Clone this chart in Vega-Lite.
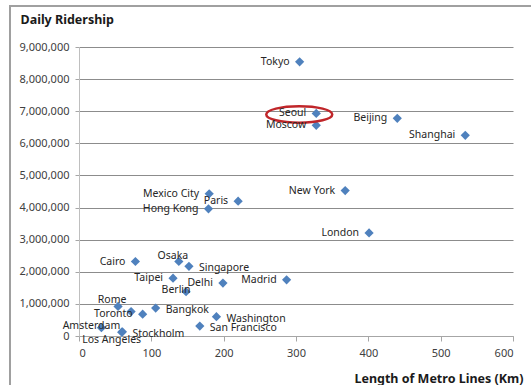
{
  "$schema": "https://vega.github.io/schema/vega-lite/v6.json",
  "width": 434,
  "height": 289,
  "autosize": {"type": "none"},
  "padding": {"left": 79, "top": 47, "right": 18, "bottom": 49},
  "background": "white",
  "config": {
    "view": {"stroke": null},
    "font": "Noto Sans",
    "axis": {"labelFont": "Noto Sans", "titleFont": "Noto Sans"}
  },
  "data": {
    "values": [
      {"city": "Tokyo", "length": 305, "riders": 8540000},
      {"city": "Seoul", "length": 328, "riders": 6930000},
      {"city": "Moscow", "length": 328, "riders": 6560000},
      {"city": "Beijing", "length": 440, "riders": 6780000},
      {"city": "Shanghai", "length": 534, "riders": 6250000},
      {"city": "New York", "length": 368, "riders": 4530000},
      {"city": "London", "length": 401, "riders": 3210000},
      {"city": "Madrid", "length": 287, "riders": 1750000},
      {"city": "Mexico City", "length": 180, "riders": 4430000},
      {"city": "Paris", "length": 220, "riders": 4200000},
      {"city": "Hong Kong", "length": 179, "riders": 3960000},
      {"city": "Cairo", "length": 78, "riders": 2320000},
      {"city": "Osaka", "length": 138, "riders": 2320000},
      {"city": "Singapore", "length": 152, "riders": 2170000},
      {"city": "Taipei", "length": 130, "riders": 1800000},
      {"city": "Delhi", "length": 199, "riders": 1650000},
      {"city": "Berlin", "length": 148, "riders": 1380000},
      {"city": "Rome", "length": 54, "riders": 920000},
      {"city": "", "length": 72, "riders": 760000},
      {"city": "Toronto", "length": 88, "riders": 680000},
      {"city": "Bangkok", "length": 106, "riders": 870000},
      {"city": "Washington", "length": 190, "riders": 600000},
      {"city": "San Francisco", "length": 167, "riders": 310000},
      {"city": "Amsterdam", "length": 31, "riders": 260000},
      {"city": "Stockholm", "length": 60, "riders": 130000},
      {"city": "Los Angeles", "length": 59, "riders": 120000}
    ]
  },
  "encoding": {
    "x": {
      "field": "length", "type": "quantitative",
      "scale": {"domain": [0, 600], "nice": false, "zero": false},
      "axis": {
        "values": [0, 100, 200, 300, 400, 500, 600],
        "grid": false,
        "domainColor": "#a6a6a6", "tickColor": "#a6a6a6", "tickSize": 5,
        "labelFontSize": 11, "labelColor": "#404040", "labelPadding": 6,
        "title": "Length of Metro Lines (Km)",
        "titleFontSize": 12.5, "titleFontWeight": "bold", "titleColor": "#1a1a1a",
        "titleAnchor": null, "titleAlign": "right", "titleX": 444, "titleY": 42, "titleBaseline": "middle"
      }
    },
    "y": {
      "field": "riders", "type": "quantitative",
      "scale": {"domain": [0, 9000000], "nice": false},
      "axis": {
        "values": [0, 1000000, 2000000, 3000000, 4000000, 5000000, 6000000, 7000000, 8000000, 9000000],
        "format": ",d",
        "grid": true, "gridColor": "#8c8c8c", "gridWidth": 1,
        "domainColor": "#bfbfbf", "tickColor": "#a6a6a6", "tickSize": 4,
        "labelFontSize": 11, "labelColor": "#404040", "labelPadding": 6,
        "title": "Daily Ridership",
        "titleFontSize": 12.5, "titleFontWeight": "bold", "titleColor": "#1a1a1a",
        "titleAngle": 0, "titleAnchor": null, "titleAlign": "left", "titleBaseline": "middle",
        "titleX": -59, "titleY": -28
      }
    }
  },
  "layer": [
    {
      "mark": {"type": "rect", "fill": null, "stroke": "#a0a0a0", "strokeWidth": 1.5, "clip": false},
      "encoding": {
        "x": {"datum": -95.4, "type": "quantitative"},
        "x2": {"datum": 660},
        "y": {"datum": 10280000, "type": "quantitative"},
        "y2": {"datum": -2500000}
      }
    },
    {
      "mark": {"type": "point", "shape": "diamond", "filled": true, "size": 85, "color": "#4f81bd", "opacity": 1}
    },
    {
      "transform": [{"filter": "datum.city == 'Seoul'"}],
      "mark": {
        "type": "point",
        "shape": "M -1 0 A 1 0.25 0 1 0 1 0 A 1 0.25 0 1 0 -1 0 Z",
        "size": 4356, "filled": false, "stroke": "#c0262a", "strokeWidth": 2.5, "opacity": 1,
        "xOffset": -17, "yOffset": 1
      }
    },
    {
      "transform": [{"filter": {"field": "city", "oneOf": ["Tokyo", "Seoul", "Moscow", "Beijing", "Shanghai", "New York", "London", "Madrid", "Mexico City", "Paris", "Hong Kong", "Cairo", "Taipei", "Delhi", "Toronto"]}}],
      "mark": {"type": "text", "align": "right", "baseline": "middle", "dx": -10, "fontSize": 10.5, "color": "#262626"},
      "encoding": {"text": {"field": "city"}}
    },
    {
      "transform": [{"filter": {"field": "city", "oneOf": ["Singapore", "Bangkok", "Washington", "San Francisco", "Stockholm"]}}],
      "mark": {"type": "text", "align": "left", "baseline": "middle", "dx": 10, "dy": 2, "fontSize": 10.5, "color": "#262626"},
      "encoding": {"text": {"field": "city"}}
    },
    {
      "transform": [{"filter": {"field": "city", "oneOf": ["Berlin", "Amsterdam"]}}],
      "mark": {"type": "text", "align": "center", "baseline": "middle", "dx": -10, "dy": -2, "fontSize": 10.5, "color": "#262626"},
      "encoding": {"text": {"field": "city"}}
    },
    {
      "transform": [{"filter": {"field": "city", "oneOf": ["Osaka", "Rome"]}}],
      "mark": {"type": "text", "align": "center", "baseline": "middle", "dx": -6, "dy": -6, "fontSize": 10.5, "color": "#262626"},
      "encoding": {"text": {"field": "city"}}
    },
    {
      "transform": [{"filter": {"field": "city", "oneOf": ["Los Angeles"]}}],
      "mark": {"type": "text", "align": "center", "baseline": "middle", "dx": -10, "dy": 8, "fontSize": 10.5, "color": "#262626"},
      "encoding": {"text": {"field": "city"}}
    }
  ]
}
